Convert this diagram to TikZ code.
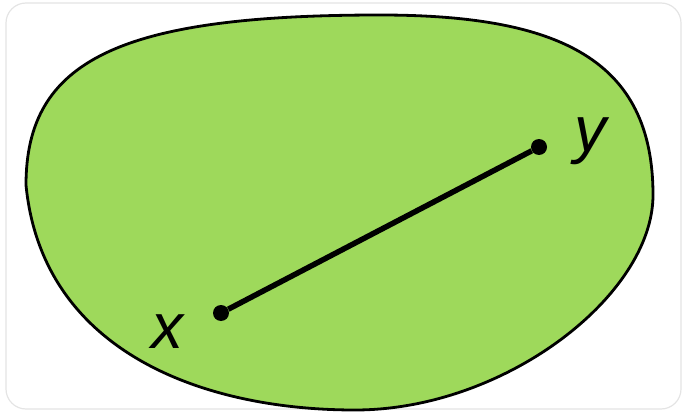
\documentclass[tikz,border=0pt]{standalone}
\usepackage{fontspec}
\setmainfont{Liberation Sans}
\definecolor{blobgreen}{RGB}{158,217,91}
\definecolor{framegray}{RGB}{228,228,228}
\tikzset{
  blob/.style={draw=black, line width=2.8pt, fill=blobgreen},
  seg/.style={draw=black, line width=5.5pt},
  dot/.style={circle, fill=black, inner sep=0pt, minimum size=16pt},
  lbl/.style={font=\fontsize{64}{64}\selectfont\itshape, inner sep=0pt}
}
\begin{document}
\begin{tikzpicture}[x=1pt,y=-1pt]
\useasboundingbox (0,0) rectangle (686,412);
\draw[framegray, line width=1.2pt, rounded corners=20pt] (6,3) rectangle (681,409);
\draw[blob] (26,185)
  .. controls (26,60) and (120,15) .. (380,15)
  .. controls (560,15) and (653,60) .. (653,195)
  .. controls (653,295) and (505,410) .. (355,410)
  .. controls (200,410) and (42,350) .. cycle;
\node[dot] (x) at (221,313) {};
\node[dot] (y) at (539,147) {};
\draw[seg] (x) -- (y);
\node[lbl] (xl) at (167,332) {x};
\node[lbl] (yl) at (590,141) {y};
\end{tikzpicture}
\end{document}
